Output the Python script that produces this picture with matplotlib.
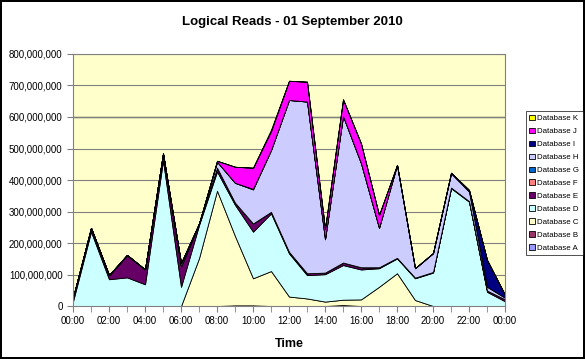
import matplotlib.pyplot as plt
from matplotlib.ticker import FuncFormatter, MultipleLocator
import numpy as np

plt.rcParams['font.family'] = ['Liberation Sans', 'DejaVu Sans']

hours = list(range(25))
hour_labels = ['%02d:00' % (h % 24) for h in range(0, 25, 2)]

# values in millions of logical reads, per hour 00:00 .. 24:00
db_a = [0, 0, 0, 0, 0, 0, 0, 0, 0, 2, 2, 0, 0, 0, 0, 3, 0, 0, 0, 0, 0, 0, 0, 0, 0]
db_b = [0] * 25
db_c = [0, 0, 0, 0, 0, 0, 0, 152, 366, 220, 86, 111, 30, 24, 14, 17, 21, 61, 104, 19, 0, 0, 0, 0, 0]
db_d = [15, 236, 85, 91, 69, 462, 61, 105, 61, 99, 148, 183, 137, 74, 87, 110, 95, 59, 47, 69, 106, 374, 331, 45, 15]
db_e = [12, 12, 13, 71, 47, 22, 65, 5, 12, 7, 26, 5, 5, 6, 5, 8, 7, 3, 2, 2, 2, 2, 2, 4, 6]
db_f = [0] * 25
db_g = [0] * 25
db_h = [0, 0, 0, 0, 0, 0, 10, 0, 19, 63, 108, 196, 482, 545, 106, 465, 330, 125, 295, 30, 60, 45, 30, 12, 5]
db_i = [0, 0, 0, 0, 0, 0, 0, 0, 0, 0, 2, 0, 0, 0, 0, 0, 0, 0, 0, 0, 0, 2, 5, 85, 9]
db_j = [0, 0, 0, 0, 0, 0, 0, 0, 3, 51, 67, 60, 61, 63, 33, 53, 63, 41, 0, 0, 0, 0, 0, 0, 0]
db_k = [0, 0, 0, 0, 0, 0, 0, 0, 0, 0, 0, 5, 0, 0, 0, 0, 0, 0, 0, 0, 0, 0, 0, 0, 0]

series = [db_a, db_b, db_c, db_d, db_e, db_f, db_g, db_h, db_i, db_j, db_k]
names = ['Database ' + c for c in 'ABCDEFGHIJK']
colors = ['#9999FF', '#993366', '#FFFFCC', '#CCFFFF', '#660066', '#FF8080',
          '#0066CC', '#CCCCFF', '#000080', '#FF00FF', '#FFFF00']

fig = plt.figure(figsize=(5.85, 3.59), dpi=100, linewidth=1.5, edgecolor='black')
ax = fig.add_axes([0.1248, 0.1476, 0.7385, 0.702])
ax.set_facecolor('#FFFFCC')

vals = np.array(series) * 1e6
polys = ax.stackplot(hours, vals, colors=colors, labels=names,
                     edgecolor='black', linewidth=0.6)

ax.set_xlim(0, 24)
ax.set_ylim(0, 800e6)
ax.yaxis.set_major_locator(MultipleLocator(100e6))
ax.yaxis.set_major_formatter(FuncFormatter(lambda v, p: '{:,.0f}'.format(v)))
ax.set_xticks(range(0, 25, 2))
ax.set_xticklabels(hour_labels)
ax.set_xticks(range(25), minor=True)
ax.tick_params(axis='both', labelsize=7, color='#808080', length=4)
ax.tick_params(axis='x', which='minor', length=4, color='#808080')
ax.grid(axis='y', color='#808080', linewidth=0.8)
ax.set_axisbelow(True)
ax.axhline(600e6, color='black', linewidth=0.9, zorder=0.5)
for s in ax.spines.values():
    s.set_color('#808080')

ax.set_xlabel('Time', fontsize=9, fontweight='bold', labelpad=8)
fig.suptitle('Logical Reads - 01 September 2010', fontsize=9.5, fontweight='bold', y=0.955)

handles, labels = ax.get_legend_handles_labels()
leg = fig.legend(handles[::-1], labels[::-1], loc='upper left',
                 bbox_to_anchor=(0.899, 0.69), fontsize=5.7, frameon=True,
                 fancybox=False, edgecolor='black', handlelength=0.7,
                 handleheight=0.7, handletextpad=0.3, labelspacing=0.68,
                 borderpad=0.45, borderaxespad=0)
leg.get_frame().set_linewidth(0.6)

fig.savefig('out.png', dpi=100, edgecolor=fig.get_edgecolor())
